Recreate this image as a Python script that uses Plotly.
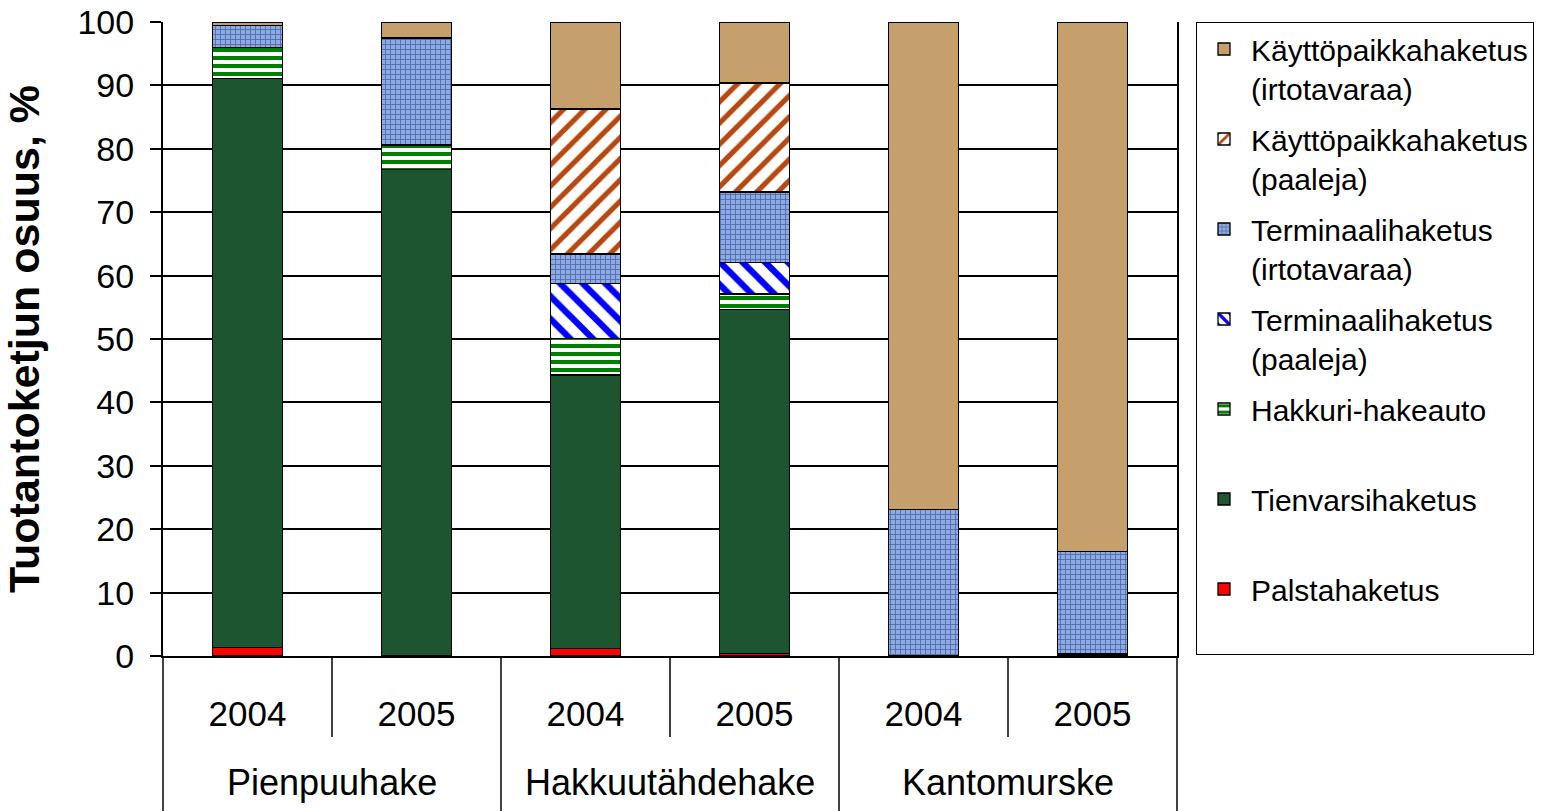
import plotly.graph_objects as go

groups = ["Pienpuuhake", "Pienpuuhake", "Hakkuutähdehake", "Hakkuutähdehake", "Kantomurske", "Kantomurske"]
years = ["2004", "2005", "2004", "2005", "2004", "2005"]

series_names = [
    "Palstahaketus",
    "Tienvarsihaketus",
    "Hakkuri-hakeauto",
    "Terminaalihaketus<br>(paaleja)",
    "Terminaalihaketus<br>(irtotavaraa)",
    "Käyttöpaikkahaketus<br>(paaleja)",
    "Käyttöpaikkahaketus<br>(irtotavaraa)",
]

palsta = [1.3, 0.0, 1.2, 0.4, 0.0, 0.0]
tienvarsi = [89.8, 76.7, 43.1, 54.2, 0.0, 0.3]
hakkuri = [4.9, 3.9, 5.8, 2.5, 0.0, 0.0]
term_paaleja = [0.0, 0.0, 8.7, 5.0, 0.0, 0.0]
term_irto = [3.5, 16.9, 4.6, 11.1, 23.1, 16.2]
kaytto_paaleja = [0.0, 0.0, 22.9, 17.2, 0.0, 0.0]
kaytto_irto = [0.5, 2.5, 13.7, 9.6, 76.9, 83.5]

values = [palsta, tienvarsi, hakkuri, term_paaleja, term_irto, kaytto_paaleja, kaytto_irto]

styles = [
    dict(color="#FF0000"),
    dict(color="#1D5530"),
    dict(color="white", pattern=dict(shape="-", fgcolor="#008000", bgcolor="white", size=8, solidity=0.5, fgopacity=1)),
    dict(color="white", pattern=dict(shape="\\", fgcolor="#0000FF", bgcolor="white", size=16, solidity=0.4, fgopacity=1)),
    dict(color="#88A6DE", pattern=dict(shape="+", fgcolor="#4A68A8", bgcolor="#8DAAE2", size=5, solidity=0.3, fgopacity=1)),
    dict(color="white", pattern=dict(shape="/", fgcolor="#B8480F", bgcolor="white", size=15, solidity=0.35, fgopacity=1)),
    dict(color="#C6A06C"),
]

FONT = "Arial, 'Liberation Sans', sans-serif"

cats = [g + " " + y for g, y in zip(groups, years)]

fig = go.Figure()
n = len(series_names)
for i, (name, vals, st) in enumerate(zip(series_names, values, styles)):
    label = name if "<br>" in name else name + "<br>\u00a0"
    fig.add_trace(go.Bar(
        x=cats, y=vals, name=label, legendgroup=name, legendrank=n - i,
        marker=dict(line=dict(color="black", width=1.3), **st),
    ))

W, H = 1545, 811
L, R, T, B = 163, 368, 22, 155
plot_h = H - T - B
plot_w = W - L - R

shapes = []
for k in range(4):
    shapes.append(dict(type="line", xref="paper", yref="paper", x0=k / 3, x1=k / 3,
                       y0=0, y1=-B / plot_h, line=dict(color="black", width=1.5)))
for k in (1, 3, 5):
    shapes.append(dict(type="line", xref="paper", yref="paper", x0=k / 6, x1=k / 6,
                       y0=0, y1=-81 / plot_h, line=dict(color="black", width=1.5)))

annotations = []
seen = []
for g in groups:
    if g not in seen:
        seen.append(g)
for g in seen:
    idx = [i for i, gg in enumerate(groups) if gg == g]
    annotations.append(dict(text=g, x=sum(idx) / len(idx), xref="x", y=-(782 - 656) / plot_h,
                            yref="paper", yanchor="middle", xanchor="center", showarrow=False,
                            font=dict(size=36, family=FONT, color="black")))

fig.update_layout(
    template="none",
    width=W, height=H,
    margin=dict(l=L, r=R, t=T, b=B, autoexpand=False),
    barmode="stack", bargap=0.585,
    paper_bgcolor="white", plot_bgcolor="white",
    font=dict(family=FONT, color="black"),
    shapes=shapes,
    annotations=annotations,
    legend=dict(
        x=(1196 - L) / plot_w, xanchor="left", y=1, yanchor="top",
        bordercolor="black", borderwidth=1, bgcolor="white",
        font=dict(size=30, family=FONT), traceorder="grouped", tracegroupgap=9,
        valign="top", itemwidth=44,
    ),
    showlegend=True,
)
fig.update_yaxes(
    automargin=False,
    range=[0, 100], dtick=10, tickfont=dict(size=34),
    showgrid=True, gridcolor="black", gridwidth=1.5,
    showline=True, linecolor="black", linewidth=2, mirror=True,
    ticks="outside", ticklen=11, tickwidth=1.5, tickcolor="black", ticklabelstandoff=9,
    ticklabeloverflow="allow",
    title=dict(text="<b>Tuotantoketjun osuus, %</b>", font=dict(size=43), standoff=31),
    zeroline=False,
)
fig.update_xaxes(
    automargin=False,
    type="category", tickmode="array", tickvals=cats, ticktext=years, tickfont=dict(size=35),
    showline=True, linecolor="black", linewidth=2,
    ticks="outside", ticklen=26, tickcolor="rgba(0,0,0,0)",
    showgrid=False, zeroline=False,
)

# remove the default 8px page margin so the figure fills the window exactly
fig.write_html("out.html", config={"displayModeBar": False},
               post_script="document.body.style.margin='0px';")
